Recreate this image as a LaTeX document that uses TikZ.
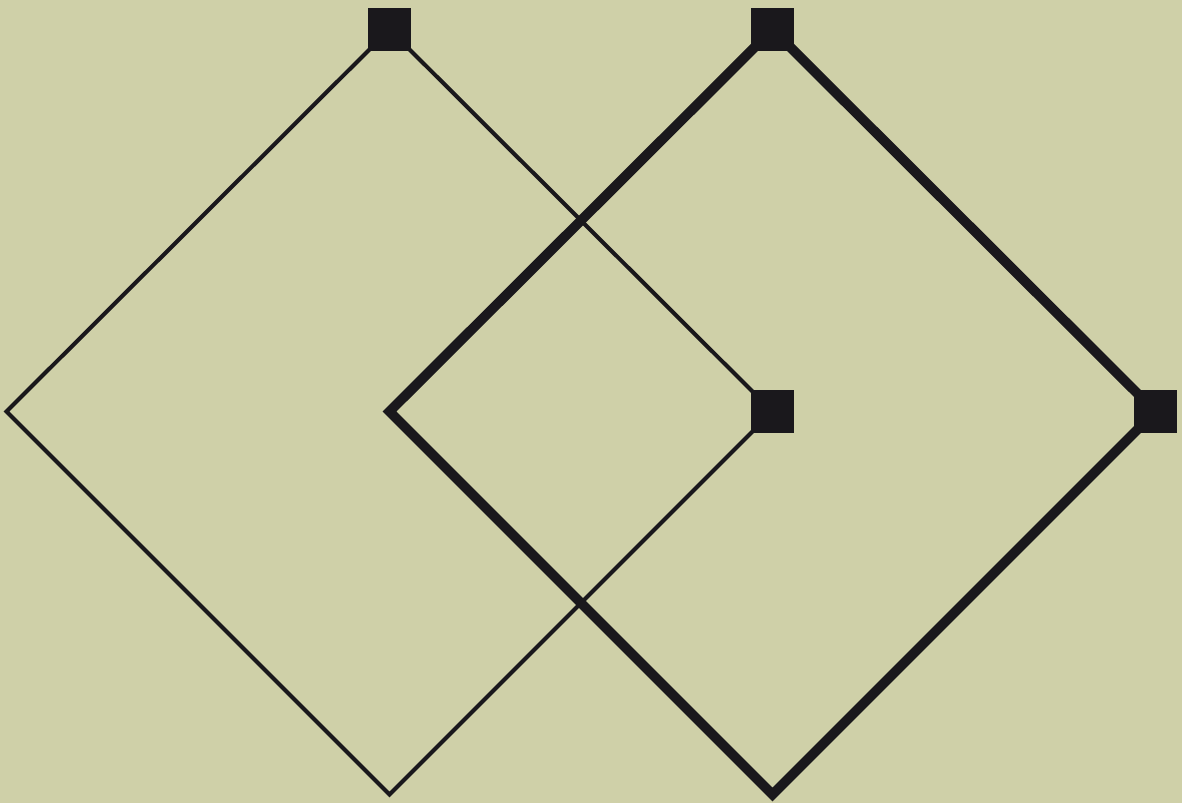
\documentclass[tikz,border=0pt]{standalone}
\usetikzlibrary{positioning}
\definecolor{dgBack}{HTML}{CFD0A8}
\definecolor{dgInk}{HTML}{1A181C}
\tikzset{
  corner/.style={rectangle, fill=dgInk, minimum size=0.43cm, inner sep=0pt},
  thinedge/.style={draw=dgInk, line width=1.15pt, miter limit=10},
  thickedge/.style={draw=dgInk, line width=2.8pt, miter limit=10}
}

\begin{document}
\begin{tikzpicture}[x=0.01cm, y=0.01cm]
  \fill[dgBack] (0,0) rectangle (1182,803);
  \useasboundingbox (0,0) rectangle (1182,803);
  % diamond corners
  \coordinate (ltop) at (389.5,773.5);
  \coordinate (lright) at (772.5,391.5);
  \coordinate (lbottom) at (389.5,8.5);
  \coordinate (lleft) at (6.5,391.5);
  \coordinate (rtop) at (772.5,773.5);
  \coordinate (rright) at (1155.5,391.5);
  \coordinate (rbottom) at (772.5,8.5);
  \coordinate (rleft) at (389.5,391.5);
  % the two diamonds
  \draw[thinedge] (ltop) -- (lright) -- (lbottom) -- (lleft) -- cycle;
  \draw[thickedge] (rtop) -- (rright) -- (rbottom) -- (rleft) -- cycle;
  % squares
  \node[corner] (sq1) at (ltop) {};
  \node[corner] (sq2) at (rtop) {};
  \node[corner] (sq3) at (lright) {};
  \node[corner] (sq4) at (rright) {};
\end{tikzpicture}
\end{document}
